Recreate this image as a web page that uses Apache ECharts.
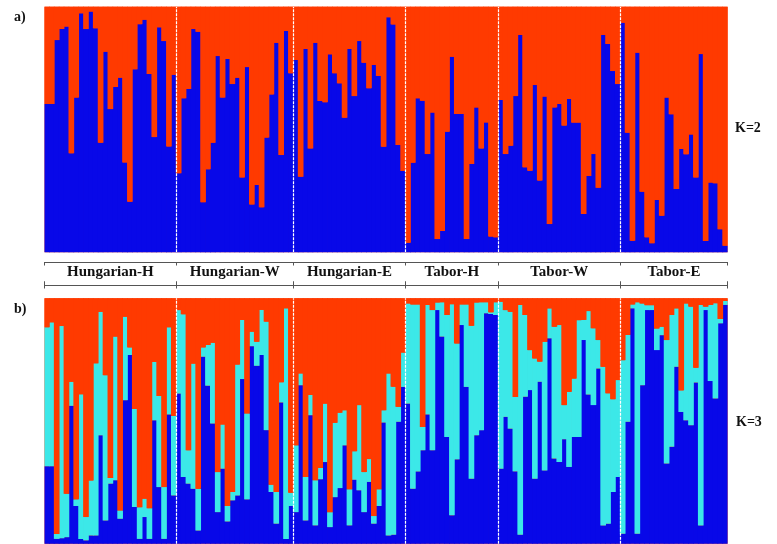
<!DOCTYPE html>
<html>
<head>
<meta charset="utf-8">
<script src="https://cdn.jsdelivr.net/npm/echarts@6/dist/echarts.min.js"></script>
<style>html,body{margin:0;padding:0;background:#fff;}#c{width:777px;height:544px;}</style>
</head>
<body>
<div id="c"></div>
<script>
// Populations and number of individuals per population
const groups = ['Hungarian-H', 'Hungarian-W', 'Hungarian-E', 'Tabor-H', 'Tabor-W', 'Tabor-E'];
const groupSizes = [27, 24, 23, 19, 25, 22];

// K=2 membership coefficients (cluster 1 = blue, cluster 2 = red)
const k2Blue = [
  0.604,0.604,0.864,0.909,0.919,0.403,0.630,0.973,0.909,0.980,0.912,0.446,0.817,0.583,0.673,0.711,0.366,0.206,0.745,0.929,0.947,0.726,0.469,0.916,0.860,0.431,0.723,
  0.322,0.627,0.665,0.909,0.898,0.204,0.338,0.446,0.799,0.630,0.787,0.685,0.711,0.305,0.754,0.195,0.274,0.183,0.467,0.643,0.853,0.396,0.901,0.729,
  0.783,0.308,0.828,0.423,0.853,0.616,0.611,0.806,0.729,0.688,0.548,0.828,0.636,0.860,0.772,0.668,0.763,0.718,0.430,0.957,0.928,0.437,0.331,
  0.039,0.365,0.627,0.617,0.400,0.569,0.054,0.087,0.491,0.796,0.563,0.563,0.054,0.360,0.590,0.423,0.529,0.064,0.061,
  0.620,0.400,0.434,0.636,0.885,0.346,0.332,0.681,0.292,0.634,0.115,0.590,0.604,0.516,0.624,0.528,0.528,0.156,0.311,0.400,0.263,0.885,0.848,0.738,0.685,
  0.935,0.487,0.047,0.813,0.247,0.061,0.037,0.213,0.149,0.630,0.562,0.258,0.421,0.399,0.480,0.305,0.807,0.046,0.284,0.281,0.094,0.027
];
const k2Red = [
  0.396,0.396,0.136,0.091,0.081,0.597,0.370,0.027,0.091,0.020,0.088,0.554,0.183,0.417,0.327,0.289,0.634,0.794,0.255,0.071,0.053,0.274,0.531,0.084,0.140,0.569,0.277,
  0.678,0.373,0.335,0.091,0.102,0.796,0.662,0.554,0.201,0.370,0.213,0.315,0.289,0.695,0.246,0.805,0.726,0.817,0.533,0.357,0.147,0.604,0.099,0.271,
  0.217,0.692,0.172,0.577,0.147,0.384,0.389,0.194,0.271,0.312,0.452,0.172,0.364,0.140,0.228,0.332,0.237,0.282,0.570,0.043,0.072,0.563,0.669,
  0.961,0.635,0.373,0.383,0.600,0.431,0.946,0.913,0.509,0.204,0.437,0.437,0.946,0.640,0.410,0.577,0.471,0.936,0.939,
  0.380,0.600,0.566,0.364,0.115,0.654,0.668,0.319,0.708,0.366,0.885,0.410,0.396,0.484,0.376,0.472,0.472,0.844,0.689,0.600,0.737,0.115,0.152,0.262,0.315,
  0.065,0.513,0.953,0.187,0.753,0.939,0.963,0.787,0.851,0.370,0.438,0.742,0.579,0.601,0.520,0.695,0.193,0.954,0.716,0.719,0.906,0.973
];

// K=3 membership coefficients (blue, cyan, red)
const k3Blue = [
  0.316,0.316,0.020,0.023,0.027,0.562,0.154,0.020,0.014,0.034,0.034,0.442,0.095,0.245,0.259,0.102,0.585,0.769,0.150,0.020,0.109,0.020,0.503,0.231,0.020,0.527,0.197,
  0.612,0.272,0.245,0.224,0.054,0.762,0.644,0.490,0.129,0.306,0.091,0.177,0.197,0.671,0.181,0.805,0.725,0.769,0.463,0.211,0.082,0.576,0.020,0.154,
  0.129,0.646,0.095,0.524,0.075,0.263,0.333,0.068,0.190,0.227,0.401,0.075,0.261,0.218,0.129,0.252,0.082,0.154,0.494,0.034,0.037,0.497,0.639,
  0.571,0.224,0.295,0.381,0.527,0.381,0.952,0.844,0.435,0.116,0.344,0.891,0.639,0.265,0.442,0.463,0.939,0.936,0.932,
  0.306,0.517,0.469,0.295,0.037,0.599,0.626,0.265,0.660,0.299,0.837,0.347,0.333,0.426,0.313,0.435,0.435,0.830,0.608,0.565,0.714,0.075,0.082,0.211,0.272,
  0.041,0.497,0.959,0.041,0.646,0.952,0.952,0.789,0.850,0.327,0.395,0.721,0.537,0.503,0.483,0.657,0.075,0.952,0.663,0.592,0.898,0.973
];
const k3Cyan = [
  0.566,0.586,0.020,0.864,0.177,0.098,0.027,0.589,0.095,0.224,0.701,0.503,0.592,0.023,0.585,0.034,0.340,0.031,0.399,0.129,0.075,0.125,0.238,0.371,0.211,0.355,0.324,
  0.340,0.663,0.136,0.510,0.170,0.038,0.166,0.329,0.163,0.180,0.063,0.034,0.533,0.241,0.350,0.059,0.098,0.184,0.442,0.030,0.129,0.082,0.939,0.054,
  0.272,0.048,0.177,0.082,0.184,0.046,0.238,0.061,0.303,0.307,0.143,0.147,0.116,0.347,0.163,0.093,0.031,0.068,0.050,0.660,0.603,0.061,0.140,
  0.408,0.751,0.680,0.095,0.446,0.571,0.031,0.140,0.497,0.860,0.472,0.084,0.336,0.623,0.541,0.521,0.045,0.007,0.052,
  0.680,0.435,0.476,0.303,0.936,0.333,0.163,0.490,0.082,0.524,0.122,0.537,0.558,0.139,0.306,0.238,0.476,0.082,0.340,0.313,0.116,0.646,0.531,0.378,0.395,
  0.707,0.354,0.016,0.943,0.333,0.020,0.020,0.088,0.034,0.503,0.537,0.238,0.088,0.476,0.483,0.060,0.898,0.014,0.310,0.388,0.018,0.016
];
const k3Red = [
  0.118,0.098,0.960,0.113,0.796,0.340,0.819,0.391,0.891,0.742,0.265,0.055,0.313,0.732,0.156,0.864,0.075,0.200,0.451,0.851,0.816,0.855,0.259,0.398,0.769,0.118,0.479,
  0.048,0.065,0.619,0.266,0.776,0.200,0.190,0.181,0.708,0.514,0.846,0.789,0.270,0.088,0.469,0.136,0.177,0.047,0.095,0.759,0.789,0.342,0.041,0.792,
  0.599,0.306,0.728,0.394,0.741,0.691,0.429,0.871,0.507,0.466,0.456,0.778,0.623,0.435,0.708,0.655,0.887,0.778,0.456,0.306,0.360,0.442,0.221,
  0.021,0.025,0.025,0.524,0.027,0.048,0.017,0.016,0.068,0.024,0.184,0.025,0.025,0.112,0.017,0.016,0.016,0.057,0.016,
  0.014,0.048,0.055,0.402,0.027,0.068,0.211,0.245,0.258,0.177,0.041,0.116,0.109,0.435,0.381,0.327,0.089,0.088,0.052,0.122,0.170,0.279,0.387,0.411,0.333,
  0.252,0.149,0.025,0.016,0.021,0.028,0.028,0.123,0.116,0.170,0.068,0.041,0.375,0.021,0.034,0.283,0.027,0.034,0.027,0.020,0.084,0.011
];

const BLUE = '#0808e8', RED = '#ff3a00', CYAN = '#3ce8e8';
const FONT = 'Liberation Serif';

// derived helpers
const individuals = [];
groups.forEach((g, gi) => { for (let i = 0; i < groupSizes[gi]; i++) individuals.push(g + ' ' + (i + 1)); });
const N = individuals.length;
const bounds = [0];
groupSizes.forEach(s => bounds.push(bounds[bounds.length - 1] + s));
const inner = bounds.slice(1, -1);
const centers = groupSizes.map((s, i) => bounds[i] + s / 2);

const L = 44.5, W = 683.1;
const BW = W / N + 0.8; // slight overlap so neighbouring bars join without seams
const catAxis = (gi) => ({ type: 'category', gridIndex: gi, data: individuals, show: false, boundaryGap: true });
const valAxisX = (gi) => ({ type: 'value', gridIndex: gi, min: 0, max: N, show: false });
const barS = (name, data, color, xi, yi, stack) => ({
  name, type: 'bar', stack, data, xAxisIndex: xi, yAxisIndex: yi,
  barWidth: BW, barGap: '-100%',
  itemStyle: { color },
  emphasis: { disabled: true }, silent: true, animation: false
});
const divider = (xi, yi) => ({
  type: 'line', xAxisIndex: xi, yAxisIndex: yi, data: [], silent: true, symbol: 'none', z: 5,
  markLine: {
    silent: true, symbol: 'none', label: { show: false }, animation: false,
    lineStyle: { color: '#ffffff', type: [3, 1], width: 1.2, opacity: 1 },
    data: inner.map(v => ({ xAxis: v }))
  }
});
const ruleAxis = (pos, inside, labels) => ({
  type: 'value', gridIndex: 1, min: 0, max: N, position: pos,
  axisLine: { show: true, lineStyle: { color: '#555', width: 1 } },
  axisTick: { show: true, inside, length: 3.5, customValues: bounds, lineStyle: { color: '#555', width: 1 } },
  axisLabel: labels ? {
    show: true, inside: true, margin: 3, customValues: centers,
    formatter: (v) => { const i = centers.findIndex(c => Math.abs(c - v) < 1e-6); return i >= 0 ? groups[i] : ''; },
    fontFamily: FONT, fontWeight: 'bold', fontSize: 15, color: '#111', verticalAlign: 'top'
  } : { show: false },
  splitLine: { show: false }
});

const chart = echarts.init(document.getElementById('c'), null, { renderer: 'canvas' });
chart.setOption({
  animation: false,
  backgroundColor: '#ffffff',
  grid: [
    { left: L, top: 6.7, width: W, height: 245.6, backgroundColor: RED, show: true, borderWidth: 0 },
    { left: L, top: 262, width: W, height: 23 },
    { left: L, top: 298.3, width: W, height: 245.5, backgroundColor: RED, show: true, borderWidth: 0 }
  ],
  xAxis: [
    catAxis(0), valAxisX(0), catAxis(2), valAxisX(2),
    ruleAxis('top', false, true), ruleAxis('top', true, false),
    ruleAxis('bottom', false, false), ruleAxis('bottom', true, false)
  ],
  yAxis: [
    { type: 'value', gridIndex: 0, min: 0, max: 1, show: false },
    { type: 'value', gridIndex: 1, min: 0, max: 1, show: false },
    { type: 'value', gridIndex: 2, min: 0, max: 1, show: false }
  ],
  series: [
    barS('Cluster 1 (K=2)', k2Blue, BLUE, 0, 0, 'k2'),
    barS('Cluster 2 (K=2)', k2Red, RED, 0, 0, 'k2'),
    divider(1, 0),
    { type: 'line', xAxisIndex: 4, yAxisIndex: 1, data: [], silent: true },
    barS('Cluster 1 (K=3)', k3Blue, BLUE, 2, 2, 'k3'),
    barS('Cluster 2 (K=3)', k3Cyan, CYAN, 2, 2, 'k3'),
    barS('Cluster 3 (K=3)', k3Red, RED, 2, 2, 'k3'),
    divider(3, 2)
  ],
  graphic: [
    { type: 'text', left: 14, top: 10, style: { text: 'a)', font: 'bold 14px "Liberation Serif"', fill: '#111' } },
    { type: 'text', left: 14, top: 302, style: { text: 'b)', font: 'bold 14px "Liberation Serif"', fill: '#111' } },
    { type: 'text', left: 735, top: 121, style: { text: 'K=2', font: 'bold 14px "Liberation Serif"', fill: '#111' } },
    { type: 'text', left: 736, top: 415, style: { text: 'K=3', font: 'bold 14px "Liberation Serif"', fill: '#111' } }
  ]
});
</script>
</body>
</html>
